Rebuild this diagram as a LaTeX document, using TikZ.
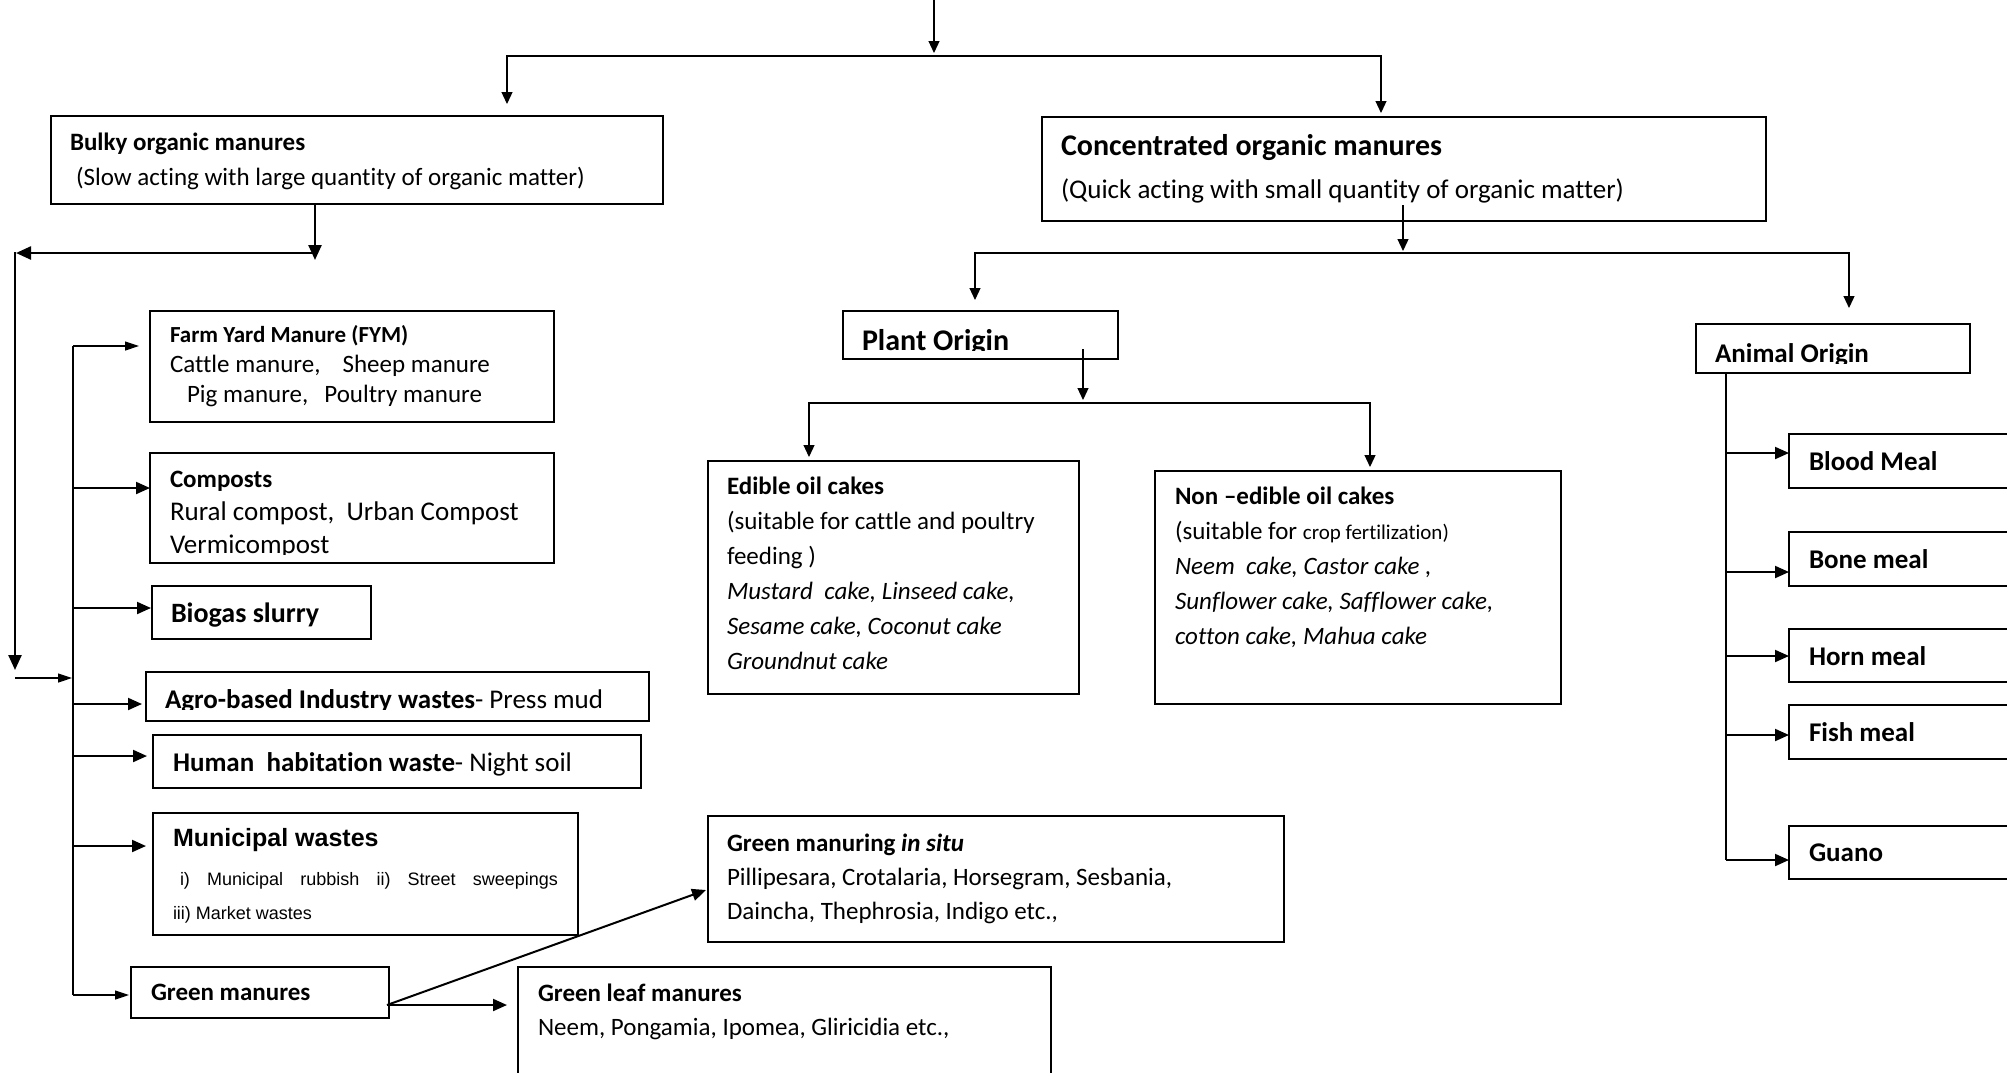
\documentclass[tikz,border=0pt]{standalone}
\usepackage{fontspec}
\setmainfont{Carlito}[Ligatures={NoCommon}]
\newfontfamily\arialfont{Liberation Sans}
\usetikzlibrary{arrows.meta}
\newcommand\setfs[2]{\fontsize{#1}{#2}\selectfont}
\begin{document}
\begin{tikzpicture}[x=1pt,y=-1pt,
  box/.style={draw, line width=1.5pt, inner sep=0pt, outer sep=0pt, anchor=north west},
  lbl/.style={anchor=base west, inner sep=0pt, outer sep=0pt},
  para/.style={lbl, text width=#1, align=flush left},
  para/.default=620pt,
  conn/.style={line width=1.2pt, -{Triangle[length=12pt,width=11pt]}},
  connf/.style={line width=1.2pt, -{Triangle[length=14pt,width=9pt]}},
  connm/.style={line width=2pt, -{Triangle[length=14pt,width=12pt]}},
  connb/.style={line width=2.4pt, -{Triangle[length=15pt,width=13pt]}},
  busline/.style={line width=2pt},
  bf25/.style={font=\setfs{25}{35}\bfseries},
  bf27/.style={font=\setfs{27}{33}\bfseries},
]
\useasboundingbox (0,0) rectangle (2007,1072);
\clip (0,0) rectangle (2007,1072);
\fill[white] (0,0) rectangle (2007,1072);

% ---------- boxes ----------
\node[box, minimum width=612pt, minimum height=88pt]  (bulky)     at (51,116)  {};
\node[box, minimum width=724pt, minimum height=104pt] (conc)      at (1042,117) {};
\node[box, minimum width=275pt, minimum height=48pt]  (plant)     at (843,311) {};
\node[box, minimum width=371pt, minimum height=233pt] (edible)    at (708,461) {};
\node[box, minimum width=406pt, minimum height=233pt] (nonedible) at (1155,471) {};
\node[box, minimum width=274pt, minimum height=49pt]  (animal)    at (1696,324) {};
\node[box, minimum width=260pt, minimum height=54pt]  (blood)     at (1789,434) {};
\node[box, minimum width=260pt, minimum height=54pt]  (bone)      at (1789,532) {};
\node[box, minimum width=260pt, minimum height=53pt]  (horn)      at (1789,629) {};
\node[box, minimum width=260pt, minimum height=54pt]  (fish)      at (1789,705) {};
\node[box, minimum width=260pt, minimum height=53pt]  (guano)     at (1789,826) {};
\node[box, minimum width=404pt, minimum height=111pt] (fym)       at (150,311) {};
\node[box, minimum width=404pt, minimum height=110pt] (compost)   at (150,453) {};
\node[box, minimum width=219pt, minimum height=53pt]  (biogas)    at (152,586) {};
\node[box, minimum width=503pt, minimum height=49pt]  (agro)      at (146,672) {};
\node[box, minimum width=488pt, minimum height=53pt]  (human)     at (153,735) {};
\node[box, minimum width=425pt, minimum height=122pt] (municipal) at (153,813) {};
\node[box, minimum width=258pt, minimum height=51pt]  (greenman)  at (131,967) {};
\node[box, minimum width=576pt, minimum height=126pt] (insitu)    at (708,816) {};
\node[box, minimum width=533pt, minimum height=140pt] (leaf)      at (518,967) {};

% ---------- texts ----------
\node[para, font=\setfs{25}{35}] (bulkyt) at (70,150)
  {\textbf{Bulky organic manures}\\\hspace*{6pt}(Slow acting with large quantity of organic matter)};

\node[lbl, font=\setfs{30}{36}\bfseries] (conct) at (1061,155) {Concentrated organic manures};
\node[lbl, font=\setfs{27}{33}] (concs) at (1061,198) {(Quick acting with small quantity of organic matter)};

\begin{scope}
  \clip (843,311) rectangle (1118,350.5);
  \node[lbl, font=\setfs{30}{36}\bfseries] (plantt) at (862,350) {Plant Origin};
\end{scope}

\node[para, font=\setfs{25}{35}] (ediblet) at (727,494)
  {\textbf{Edible oil cakes}\\(suitable for cattle and poultry\\feeding )\\
   \textit{Mustard\ \ cake, Linseed cake,}\\\textit{Sesame cake, Coconut cake}\\\textit{Groundnut cake}};

\node[para, font=\setfs{25}{35}] (nonediblet) at (1175,504)
  {\textbf{Non –edible oil cakes}\\(suitable for {\setfs{21}{35}crop fertilization)}\\
   \textit{Neem\ \ cake, Castor cake ,}\\\textit{Sunflower cake, Safflower cake,}\\\textit{cotton cake, Mahua cake}};

\begin{scope}
  \clip (1696,324) rectangle (1970,363);
  \node[lbl, bf27] (animalt) at (1715,362) {Animal Origin};
\end{scope}

\node[lbl, bf27] (bloodt) at (1809,470) {Blood Meal};
\node[lbl, bf27] (bonet)  at (1809,568) {Bone meal};
\node[lbl, bf27] (hornt)  at (1809,665) {Horn meal};
\node[lbl, bf27] (fisht)  at (1809,741) {Fish meal};
\node[lbl, bf27] (guanot) at (1809,861) {Guano};

\node[para, font=\setfs{25}{30}] (fymt) at (170,342)
  {{\setfs{23}{30}\bfseries Farm Yard Manure (FYM)}\\Cattle manure,\hspace{22pt}Sheep manure\\
   \hspace*{17pt}Pig manure,\hspace{16pt}Poultry manure};

\begin{scope}
  \clip (150,453) rectangle (554,554);
  \node[para, font=\setfs{27}{33}] (compostt) at (170,487)
    {{\setfs{25}{33}\bfseries Composts}\\Rural compost,\ \ Urban Compost\\Vermicompost};
\end{scope}

\node[lbl, font=\setfs{28}{34}\bfseries] (biogast) at (171,622) {Biogas slurry};

\begin{scope}
  \clip (146,672) rectangle (649,709);
  \node[lbl, font=\setfs{27}{33}] (agrot) at (165,708) {\textbf{Agro-based Industry wastes}- Press mud};
\end{scope}

\node[lbl, font=\setfs{27}{33}] (humant) at (173,771) {\textbf{Human\ \ habitation waste}- Night soil};

\node[lbl, font=\arialfont\setfs{25}{30}\bfseries] (municipalt) at (173,846) {Municipal wastes};
\node[lbl, font=\arialfont\setfs{18}{22}] (municipal2) at (180,885)
  {\makebox[378pt][s]{i) Municipal rubbish ii) Street sweepings}};
\node[lbl, font=\arialfont\setfs{18}{22}] (municipal3) at (173,919) {iii) Market wastes};

\node[lbl, bf25] (greenmant) at (151,1000) {Green manures};

\node[para, font=\setfs{25}{34}] (insitut) at (727,851)
  {\textbf{Green manuring \textit{in situ}}\\Pillipesara, Crotalaria, Horsegram, Sesbania,\\Daincha, Thephrosia, Indigo etc.,};

\node[para, font=\setfs{25}{34}] (leaft) at (538,1001)
  {\textbf{Green leaf manures}\\Neem, Pongamia, Ipomea, Gliricidia etc.,};

% ---------- connectors: top level ----------
\coordinate (root)     at (934,0);
\coordinate (sp1)      at (934,56);
\coordinate (bulkyin)  at (507,104);
\coordinate (concin)   at (1381,113);
\draw[conn, shorten >=3pt] (root) -- (sp1);
\draw[conn] (sp1) -| (bulkyin);
\draw[conn] (sp1) -| (concin);

% concentrated manures
\coordinate (concout)  at (1403,205);
\coordinate (sp2)      at (1403,253);
\coordinate (plantin)  at (975,300);
\coordinate (animalin) at (1849,308);
\draw[conn, shorten >=2pt] (concout) -- (sp2);
\draw[conn] (sp2) -| (plantin);
\draw[conn] (sp2) -| (animalin);

% plant origin
\coordinate (plantout) at (1083,349);
\coordinate (sp3)      at (1083,403);
\coordinate (ediblein) at (809,457);
\coordinate (nonedin)  at (1370,467);
\draw[conn, shorten >=3pt] (plantout) -- (sp3);
\draw[conn] (sp3) -| (ediblein);
\draw[conn] (sp3) -| (nonedin);

% animal origin
\coordinate (abus)     at (1726,373);
\coordinate (bloodin)  at (1789,453);
\coordinate (bonein)   at (1789,572);
\coordinate (hornin)   at (1789,656);
\coordinate (fishin)   at (1789,735);
\coordinate (guanoin)  at (1789,860);
\draw[busline] (abus) -- (abus |- guanoin);
\foreach \t in {bloodin,bonein,hornin,fishin,guanoin}
  \draw[connm] (abus |- \t) -- (\t);

% bulky manures
\coordinate (bulkyout) at (315,204);
\coordinate (bk1)      at (315,260);
\coordinate (bk2)      at (315,253);
\coordinate (bk3)      at (16,253);
\coordinate (bk4)      at (15,252);
\coordinate (bk5)      at (15,670);
\coordinate (bk6)      at (15,678);
\coordinate (busjoin)  at (72,678);
\draw[connb] (bulkyout) -- (bk1);
\draw[connb] (bk2) -- (bk3);
\draw[connb] (bk4) -- (bk5);
\draw[connf] (bk6) -- (busjoin);

\coordinate (bustop)   at (73,346);
\coordinate (busend)   at (73,995);
\coordinate (fymin)    at (139,346);
\coordinate (compin)   at (150,488);
\coordinate (bioin)    at (151,608);
\coordinate (agroin)   at (142,704);
\coordinate (humanin)  at (147,756);
\coordinate (munin)    at (146,846);
\coordinate (gmin)     at (129,995);
\draw[busline] (bustop) -- (busend);
\draw[connf] (bustop) -- (fymin);
\foreach \t in {compin,bioin,agroin,humanin,munin}
  \draw[connm] (bustop |- \t) -- (\t);
\draw[connf] (busend) -- (gmin);

% green manures
\coordinate (gmout)    at (387,1005);
\coordinate (insituin) at (706,890);
\coordinate (leafin)   at (507,1005);
\draw[connm] (gmout) -- (insituin);
\draw[connm] (gmout) -- (leafin);
\end{tikzpicture}
\end{document}
